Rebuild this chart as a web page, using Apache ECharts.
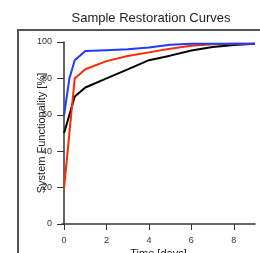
<!DOCTYPE html>
<html>
<head>
<meta charset="utf-8">
<script src="https://cdn.jsdelivr.net/npm/echarts@6/dist/echarts.min.js"></script>
<style>
  html, body { margin: 0; padding: 0; background: #fff; }
  #chart { width: 260px; height: 253px; }
</style>
</head>
<body>
<div id="chart"></div>
<script>
// restoration curves, time in days vs functionality %
const blueDays = [0, 0.25, 0.5, 1, 2, 3, 4, 5, 6, 7, 8, 9];
const blueVals = [60, 80, 90, 95, 95.5, 96, 97, 98.5, 99, 99, 99, 99];
const redDays = [0, 0.5, 1, 2, 3, 4, 5, 6, 7, 8, 9];
const redVals = [20, 80, 85, 89.5, 92.3, 94.3, 96.3, 98, 98.7, 99, 99];
const blackDays = [0, 0.5, 1, 2, 3, 4, 5, 6, 7, 8, 9];
const blackVals = [50, 70, 75, 80, 85, 90, 92.5, 95.3, 97.3, 98.4, 99];
const xTicks = [0, 2, 4, 6, 8];

function pairs(xs, ys) {
  return xs.map((x, i) => [x, ys[i]]);
}

const chart = echarts.init(document.getElementById('chart'));
const axisCol = '#333';
const lineSeries = (data, color) => ({
  type: 'line',
  data: data,
  showSymbol: false,
  lineStyle: { color: color, width: 2 },
  itemStyle: { color: color },
  z: 3
});

chart.setOption({
  animation: false,
  title: {
    text: 'Sample Restoration Curves',
    left: 146, top: 7, textAlign: 'center',
    textStyle: { fontFamily: 'Liberation Sans', fontSize: 13, fontWeight: 'normal', color: '#222' }
  },
  graphic: [{
    type: 'rect',
    shape: { x: 18, y: 30, width: 260, height: 240 },
    style: { fill: 'none', stroke: '#555', lineWidth: 2 },
    z: -1
  }],
  grid: { left: 62, right: 5, top: 42, bottom: 29, outerBoundsMode: 'none' },
  xAxis: {
    type: 'value', min: -0.1, max: 9,
    name: 'Time [days]', nameLocation: 'middle', nameGap: 24, nameMoveOverlap: false,
    nameTextStyle: { fontFamily: 'Liberation Sans', fontSize: 11, color: '#222' },
    axisLine: { show: true, lineStyle: { color: axisCol, width: 1.5 } },
    axisTick: { show: true, length: 6, customValues: xTicks, lineStyle: { color: axisCol } },
    axisLabel: { customValues: xTicks, fontFamily: 'Liberation Sans', fontSize: 9, color: '#333', margin: 12 },
    splitLine: { show: false }
  },
  yAxis: {
    type: 'value', min: 0, max: 100, interval: 20,
    name: 'System Functionality [%]', nameLocation: 'middle', nameGap: 15, nameRotate: 90,
    nameMoveOverlap: false,
    nameTextStyle: { fontFamily: 'Liberation Sans', fontSize: 11, color: '#222' },
    axisLine: { show: true, lineStyle: { color: axisCol, width: 1.5 } },
    axisTick: { show: true, length: 7, lineStyle: { color: axisCol } },
    axisLabel: { fontFamily: 'Liberation Sans', fontSize: 9, color: '#333', margin: 10 },
    splitLine: { show: false }
  },
  series: [
    lineSeries(pairs(blackDays, blackVals), '#000000'),
    lineSeries(pairs(redDays, redVals), '#ff2a00'),
    lineSeries(pairs(blueDays, blueVals), '#1f3cff')
  ]
});
</script>
</body>
</html>
